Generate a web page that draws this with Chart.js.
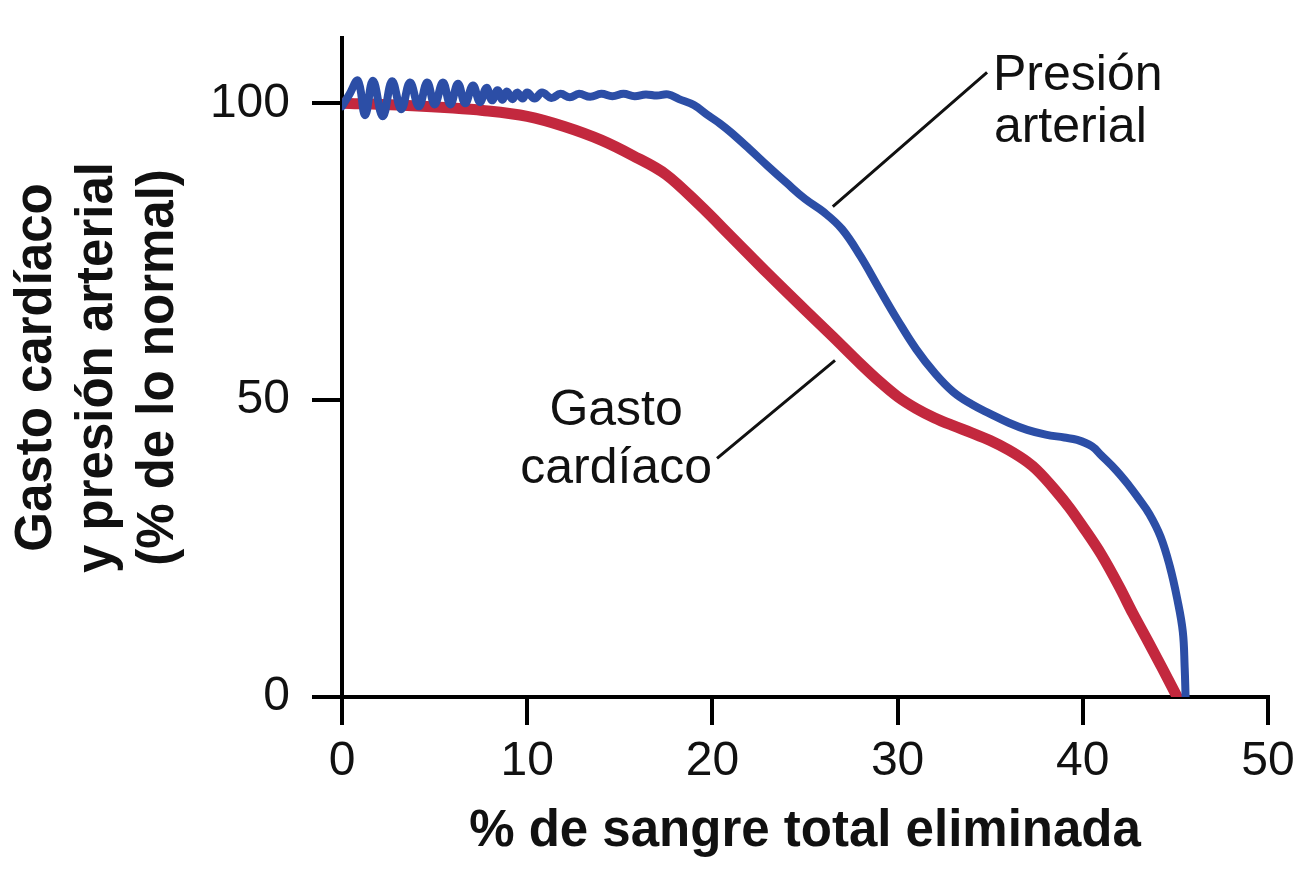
<!DOCTYPE html>
<html>
<head>
<meta charset="utf-8">
<script src="https://cdn.jsdelivr.net/npm/chart.js@4/dist/chart.umd.min.js"></script>
<style>
  html, body { margin: 0; padding: 0; background: #fff; }
  #wrap { width: 1312px; height: 877px; }
</style>
</head>
<body>
<div id="wrap"><canvas id="hemorragiaChart"></canvas></div>
<script>
// % de sangre eliminada / presión arterial (% de lo normal)
const presionX = [0, 0.4, 0.86, 1.25, 1.67, 2.2, 2.7, 3.2, 3.67, 4.15, 4.6, 5.0, 5.45, 5.85, 6.26, 6.65, 7.07, 7.45, 7.8, 8.1, 8.4, 8.65, 8.9, 9.2, 9.45, 9.75, 10.0, 10.4, 10.8, 11.3, 11.8, 12.3, 12.8, 13.4, 14.0, 14.6, 15.2, 15.8, 16.4, 17.0, 17.6, 18.2, 19.0, 19.8, 20.4, 21, 22, 23, 24, 25, 26, 27, 28, 29, 30, 31, 32, 33, 34, 35, 36, 37, 38, 39, 39.7, 40.5, 41, 41.8, 42.5, 43, 43.6, 44.2, 44.7, 45.1, 45.4, 45.5, 45.55];
const presionY = [99.5, 101.5, 103.8, 98.0, 103.8, 97.8, 103.7, 99.0, 103.5, 99.5, 103.5, 99.8, 103.5, 99.8, 103.3, 100.0, 103.0, 100.2, 102.6, 100.5, 102.2, 100.6, 102.0, 100.7, 101.8, 100.8, 101.8, 100.8, 101.8, 100.9, 101.6, 101.0, 101.6, 101.1, 101.6, 101.2, 101.6, 101.2, 101.5, 101.3, 101.5, 100.7, 99.7, 97.9, 96.6, 95.1, 92.3, 89.4, 86.6, 83.9, 81.7, 78.8, 74.2, 68.8, 63.5, 58.6, 54.6, 51.4, 49.3, 47.7, 46.2, 45.0, 44.2, 43.7, 43.3, 42.2, 40.7, 38.2, 35.6, 33.5, 30.8, 27, 22, 16.5, 11, 5, 0];

// gasto cardíaco (% de lo normal)
const gastoX = [0, 3, 6, 7.6, 10, 12, 14, 15.7, 17.5, 19.3, 21, 23, 25, 26.5, 28, 29, 30, 31, 32, 33, 34, 35, 36, 37, 37.5, 38.5, 39.3, 40, 41, 42, 42.7, 43.5, 44.3, 45.1];
const gastoY = [100, 99.7, 99.2, 98.8, 97.8, 96.1, 93.8, 91.2, 88.0, 82.9, 77.6, 71.3, 65.2, 60.7, 56.1, 53.2, 50.6, 48.6, 47.0, 45.7, 44.5, 43.2, 41.6, 39.6, 38.3, 34.9, 31.8, 28.7, 24, 18.4, 14.1, 9.5, 4.8, 0];

const xTicks = [0, 10, 20, 30, 40, 50];
const yTicks = [0, 50, 100];

const toPoints = (xs, ys) => xs.map((x, i) => ({ x: x, y: ys[i] }));

// etiquetas con línea indicadora
const etiquetas = {
  id: 'etiquetas',
  afterDatasetsDraw(chart) {
    const { ctx, scales: { x, y } } = chart;
    ctx.save();
    ctx.strokeStyle = '#111';
    ctx.lineWidth = 3;
    ctx.beginPath();
    ctx.moveTo(x.getPixelForValue(26.5), y.getPixelForValue(82.6));
    ctx.lineTo(x.getPixelForValue(34.83), y.getPixelForValue(105.2));
    ctx.moveTo(x.getPixelForValue(26.62), y.getPixelForValue(56.7));
    ctx.lineTo(x.getPixelForValue(20.25), y.getPixelForValue(40.2));
    ctx.stroke();

    ctx.fillStyle = '#111';
    ctx.font = '50px "Liberation Sans", Arial, sans-serif';
    ctx.textBaseline = 'alphabetic';
    ctx.textAlign = 'left';
    ctx.fillText('Presión', x.getPixelForValue(35.15), y.getPixelForValue(102.2));
    ctx.fillText('arterial', x.getPixelForValue(35.2), y.getPixelForValue(93.4));
    ctx.textAlign = 'center';
    ctx.fillText('Gasto', x.getPixelForValue(14.8), y.getPixelForValue(45.8));
    ctx.fillText('cardíaco', x.getPixelForValue(14.8), y.getPixelForValue(36.0));
    ctx.restore();
  }
};

const tickFont = { family: '"Liberation Sans", Arial, sans-serif', size: 48 };
const titleFont = { family: '"Liberation Sans", Arial, sans-serif', size: 51, weight: 'bold', lineHeight: 1.2 };

new Chart(document.getElementById('hemorragiaChart'), {
  type: 'line',
  data: {
    datasets: [{
      label: 'Presión arterial',
      data: toPoints(presionX, presionY),
      borderColor: '#2c4ea6',
      borderWidth: 8,
      pointRadius: 0,
      tension: 0.4,
      borderCapStyle: 'round',
      borderJoinStyle: 'round'
    }, {
      label: 'Gasto cardíaco',
      data: toPoints(gastoX, gastoY),
      borderColor: '#c3283e',
      borderWidth: 11,
      pointRadius: 0,
      tension: 0.4,
      cubicInterpolationMode: 'monotone',
      borderCapStyle: 'round'
    }]
  },
  options: {
    responsive: true,
    maintainAspectRatio: false,
    animation: false,
    layout: { padding: { left: 0, right: 44, top: 38, bottom: 0 } },
    plugins: { legend: { display: false }, tooltip: { enabled: false } },
    scales: {
      x: {
        type: 'linear',
        min: 0,
        max: 50,
        afterBuildTicks: s => { s.ticks = xTicks.map(v => ({ value: v })); },
        afterFit: s => { s.height = 180; s.paddingLeft = 0; s.paddingRight = 0; },
        border: { display: true, color: '#000', width: 4 },
        grid: { drawOnChartArea: false, drawTicks: true, tickLength: 28, color: '#000', lineWidth: 4 },
        ticks: { font: tickFont, color: '#111', padding: 8, maxRotation: 0 },
        title: { display: true, text: '% de sangre total eliminada', font: titleFont, color: '#111', padding: { top: 0, bottom: 14 } }
      },
      y: {
        type: 'linear',
        min: 0,
        max: 111,
        afterBuildTicks: s => { s.ticks = yTicks.map(v => ({ value: v })); },
        afterFit: s => { s.width = 342; s.paddingTop = 0; s.paddingBottom = 0; },
        border: { display: true, color: '#000', width: 4 },
        grid: { drawOnChartArea: false, drawTicks: true, tickLength: 30, color: '#000', lineWidth: 4 },
        ticks: { font: tickFont, color: '#111', padding: 22 },
        title: {
          display: true,
          text: ['Gasto cardíaco', 'y presión arterial', '(% de lo normal)'],
          font: titleFont,
          color: '#111',
          padding: { top: 6, bottom: 0 }
        }
      }
    }
  },
  plugins: [etiquetas]
});
</script>
</body>
</html>
